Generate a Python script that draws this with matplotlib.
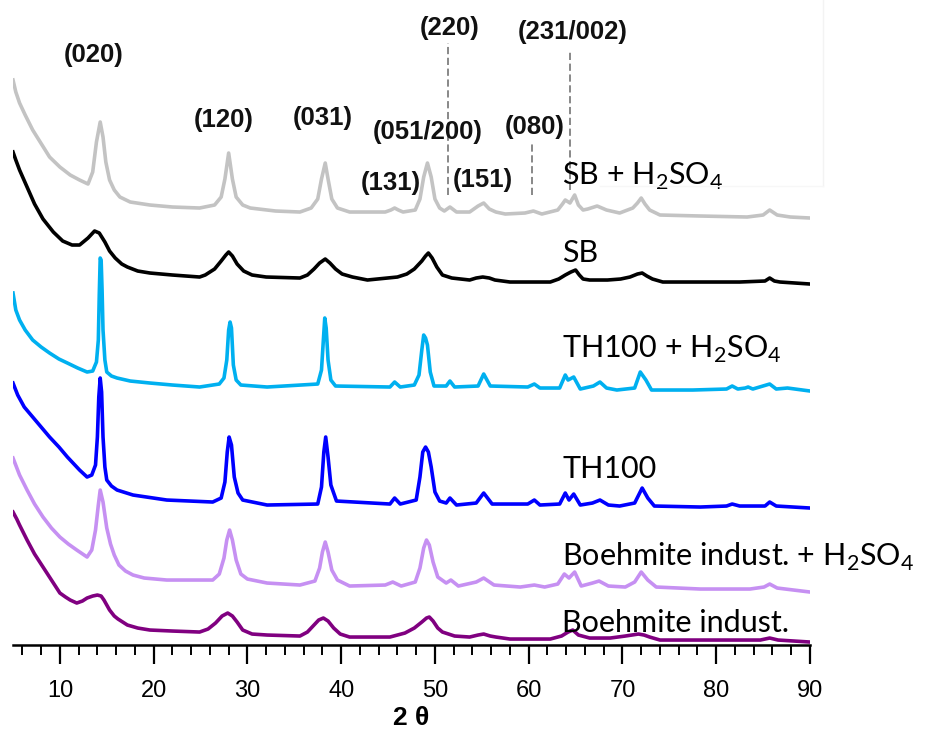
import matplotlib
matplotlib.use("Agg")
import matplotlib.pyplot as plt
from matplotlib.lines import Line2D
from matplotlib.ticker import MultipleLocator

# 2 theta (deg) / intensity above each pattern's own baseline (arb.)
x_sb_acid = [5.0, 5.3, 5.7, 6.3, 7.1, 7.9, 8.9, 10.0, 11.1, 12.1, 13.0, 13.5, 13.9, 14.3, 14.6,
             14.9, 15.3, 15.8, 16.4, 17.5, 19.6, 22.0, 24.9, 26.5, 27.2, 27.6, 28.0, 28.4,
             28.8, 29.5, 30.3, 33.0, 35.6, 36.8, 37.5, 37.9, 38.3, 38.6, 39.0, 39.6, 40.9,
             44.7, 45.3, 45.7, 46.1, 46.6, 47.9, 48.4, 48.8, 49.2, 49.6, 50.0, 50.5, 51.0,
             51.6, 52.3, 53.7, 54.6, 55.2, 55.8, 56.5, 57.5, 59.6, 60.5, 61.4, 63.1, 63.6,
             63.9, 64.4, 64.9, 65.3, 65.8, 66.3, 67.3, 68.3, 69.7, 71.1, 71.6, 72.0, 72.4,
             72.9, 74.0, 78.3, 83.3, 85.0, 85.7, 86.5, 87.9, 90.0]
y_sb_acid = [137, 125, 114, 102, 87, 75, 60, 50, 42, 37, 33, 45, 75, 95, 80,
             55, 37, 27, 20, 15, 12, 10, 9, 12, 20, 38, 64, 38,
             20, 12, 9, 6, 5, 9, 18, 38, 54, 38, 18, 9, 5,
             5, 7, 9, 7, 5, 7, 18, 40, 54, 40, 18, 9, 6,
             10, 5, 5, 11, 14, 8, 5, 3, 4, 6, 3, 7, 13,
             17, 14, 22, 12, 7, 8, 11, 7, 4, 9, 14, 19, 13,
             7, 2, 1, 0, 2, 7, 2, 0, -1]

x_sb = [5.0, 5.3, 5.7, 6.5, 7.3, 8.2, 9.3, 10.3, 11.3, 12.1, 13.0, 13.7, 14.2, 14.8, 15.3,
        15.9, 16.6, 17.2, 18.3, 19.6, 22.0, 24.9, 25.5, 26.5, 27.2, 27.7, 28.0, 28.4, 28.9,
        29.6, 30.5, 32.0, 35.6, 36.4, 37.1, 37.7, 38.3, 38.8, 39.4, 40.1, 41.2, 42.8, 46.0,
        47.0, 47.8, 48.6, 49.0, 49.3, 49.7, 50.2, 50.8, 51.8, 53.7, 54.4, 55.1, 55.8, 56.4,
        58.0, 62.3, 63.2, 63.9, 64.5, 65.0, 65.4, 65.8, 66.5, 68.4, 69.8, 70.8, 71.6, 72.1,
        72.6, 73.2, 74.3, 82.5, 85.2, 85.7, 86.2, 86.8, 90.0]
y_sb = [130, 122, 112, 95, 78, 63, 50, 41, 37, 37, 44, 51, 49, 40, 31,
        24, 18, 15, 11, 9, 7, 5, 7, 13, 21, 27, 30, 26, 18,
        11, 7, 5, 4, 7, 13, 19, 23, 19, 13, 8, 5, 2, 5,
        8, 13, 21, 26, 29, 24, 15, 7, 4, 2, 4, 5, 4, 2,
        0, 0, 3, 7, 10, 12, 7, 3, 2, 2, 3, 5, 8, 9,
        6, 3, 0, 0, 1, 4, 1, 0, -2]

x_th_acid = [5.0, 5.3, 5.7, 6.3, 7.1, 8.0, 8.9, 9.9, 10.8, 11.9, 12.9, 13.5, 13.9, 14.1, 14.2,
             14.3, 14.4, 14.5, 14.6, 14.8, 15.0, 15.5, 16.1, 17.5, 19.6, 22.0, 24.9, 27.0,
             27.5, 27.8, 28.0, 28.15, 28.3, 28.5, 28.8, 29.3, 32.1, 37.5, 37.9, 38.1, 38.25,
             38.4, 38.6, 38.9, 39.4, 45.2, 45.7, 46.3, 47.8, 48.3, 48.6, 48.8, 49.0, 49.2,
             49.5, 49.9, 51.2, 51.6, 52.1, 54.6, 55.2, 55.9, 59.9, 60.6, 61.2, 63.3, 63.9,
             64.2, 64.8, 65.5, 66.9, 67.6, 68.3, 69.4, 71.3, 71.9, 72.5, 73.1, 77.5, 81.1,
             81.7, 82.3, 83.1, 83.4, 83.9, 85.7, 86.4, 87.6, 90.0]
y_th_acid = [97, 80, 70, 60, 50, 43, 37, 31, 27, 22, 18, 19, 28, 50, 95,
             132, 130, 100, 60, 30, 18, 14, 12, 9, 7, 5, 3, 6,
             12, 30, 60, 68, 62, 25, 10, 5, 3, 6, 20, 50, 72,
             62, 30, 10, 4, 3, 8, 3, 5, 15, 40, 55, 52, 45,
             18, 4, 4, 9, 3, 4, 16, 4, 3, 6, 2, 2, 15,
             10, 13, 1, 4, 8, 2, 0, 2, 18, 10, 0, 0, 1,
             4, 1, 2, 3, 1, 6, 1, 2, -1]

x_th = [5.0, 5.5, 6.2, 7.1, 8.0, 8.9, 9.9, 10.8, 11.5, 12.1, 12.9, 13.4, 13.8, 14.0, 14.15,
        14.3, 14.45, 14.6, 14.8, 15.0, 15.5, 16.1, 17.8, 21.4, 26.3, 27.2, 27.6, 27.85,
        28.05, 28.3, 28.6, 29.0, 29.5, 32.1, 37.5, 37.9, 38.15, 38.35, 38.6, 38.9, 39.5,
        45.2, 45.7, 46.3, 48.0, 48.4, 48.7, 49.0, 49.3, 49.6, 50.0, 50.5, 51.2, 51.6,
        52.3, 54.4, 55.2, 56.1, 59.9, 60.6, 61.2, 63.3, 63.9, 64.3, 64.8, 65.5, 66.8,
        67.6, 68.5, 69.7, 71.3, 72.1, 72.7, 73.4, 78.3, 81.1, 81.7, 82.5, 85.2, 85.7,
        86.4, 90.0]
y_th = [124, 112, 100, 90, 80, 70, 60, 50, 43, 37, 30, 32, 42, 70, 110,
        129, 115, 70, 40, 27, 21, 17, 12, 7, 5, 9, 25, 55,
        70, 62, 30, 14, 7, 2, 3, 20, 55, 70, 50, 22, 6,
        3, 9, 3, 7, 30, 55, 60, 55, 40, 15, 6, 4, 9,
        2, 4, 14, 3, 3, 7, 2, 3, 14, 7, 13, 2, 4,
        7, 2, 1, 4, 19, 9, 1, 0, 1, 3, 1, 1, 5,
        1, -1]

x_bi_acid = [5.0, 5.7, 6.5, 7.3, 8.2, 9.1, 10.0, 10.9, 11.8, 12.9, 13.4, 13.8, 14.1, 14.3, 14.6,
             15.0, 15.4, 15.8, 16.3, 17.0, 17.8, 19.0, 21.4, 26.3, 27.0, 27.5, 27.8, 28.1,
             28.4, 28.8, 29.3, 30.0, 32.1, 35.6, 37.2, 37.7, 38.0, 38.3, 38.6, 39.0, 39.6,
             40.9, 44.7, 45.5, 46.4, 47.9, 48.4, 48.8, 49.1, 49.4, 49.8, 50.3, 51.2, 51.7,
             52.5, 54.4, 55.2, 56.3, 59.1, 60.6, 61.7, 63.1, 63.8, 64.3, 64.9, 65.6, 66.8,
             67.5, 68.5, 70.3, 71.3, 72.0, 72.7, 73.6, 78.3, 83.6, 85.1, 85.7, 86.5, 90.0]
y_bi_acid = [132, 115, 100, 86, 73, 62, 53, 46, 40, 33, 40, 60, 85, 100, 88,
             62, 46, 35, 25, 19, 15, 12, 10, 10, 16, 32, 50, 60,
             50, 30, 16, 11, 7, 5, 9, 22, 38, 48, 38, 20, 10,
             4, 5, 8, 4, 8, 22, 42, 50, 45, 28, 13, 7, 10,
             4, 8, 12, 5, 3, 5, 3, 6, 16, 12, 18, 4, 7,
             9, 4, 3, 8, 18, 10, 3, 1, 1, 3, 6, 2, -2]

x_bi = [5.0, 5.4, 5.7, 6.5, 7.3, 8.2, 9.1, 10.0, 10.6, 11.1, 11.8, 12.4, 12.9, 13.5, 14.0,
        14.4, 14.7, 15.3, 15.8, 16.2, 17.2, 18.3, 19.6, 22.0, 24.9, 25.8, 26.6, 27.3, 27.9,
        28.4, 28.9, 29.5, 30.5, 32.1, 35.6, 36.4, 37.0, 37.6, 38.1, 38.6, 39.2, 39.9, 40.9,
        45.2, 46.8, 47.8, 48.6, 49.1, 49.4, 49.8, 50.3, 50.8, 52.1, 53.7, 54.6, 55.2, 55.9,
        56.5, 58.0, 62.3, 63.5, 64.2, 64.7, 65.3, 66.5, 68.7, 70.3, 71.0, 71.7, 72.3, 72.9,
        74.0, 84.7, 85.7, 86.6, 90.0]
y_bi = [129, 122, 116, 101, 87, 74, 61, 48, 44, 41, 38, 40, 43, 45, 46,
        45, 41, 31, 25, 22, 16, 13, 11, 10, 9, 12, 18, 25, 28,
        25, 19, 11, 7, 6, 5, 9, 15, 21, 23, 20, 13, 7, 4,
        4, 8, 13, 19, 23, 24, 20, 13, 9, 5, 4, 6, 7, 5,
        4, 2, 2, 5, 9, 11, 6, 3, 3, 5, 6, 7, 6, 4,
        1, 1, 3, 1, -1]

series_x = [x_sb_acid, x_sb, x_th_acid, x_th, x_bi_acid, x_bi]
series_y = [y_sb_acid, y_sb, y_th_acid, y_th, y_bi_acid, y_bi]
series_name = [r"SB + H$_\mathregular{2}$SO$_\mathregular{4}$", "SB",
               r"TH100 + H$_\mathregular{2}$SO$_\mathregular{4}$", "TH100",
               r"Boehmite indust. + H$_\mathregular{2}$SO$_\mathregular{4}$", "Boehmite indust."]
series_color = ["#c3c3c3", "#000000", "#00b0f0", "#0000ff", "#c690f2", "#800080"]
offset = [428, 363, 255, 138, 55, 4]
name_y = [460, 383, 287, 167, 79, 13]

# reflexions: label, x, y of text
hkl = ["(020)", "(120)", "(031)", "(051/200)", "(131)", "(151)", "(080)", "(220)", "(231/002)"]
hkl_x = [13.6, 27.5, 38.0, 49.2, 45.3, 55.1, 60.6, 51.6, 64.7]
hkl_y = [590, 525, 527, 513, 462, 465, 518, 617, 613]
# dashed guide lines: x, y start, y end
guide_x = [51.4, 60.4, 64.4]
guide_y0 = [450, 450, 455]
guide_y1 = [602, 503, 595]

fig = plt.figure(figsize=(9.5, 7.47), dpi=100)
ax = fig.add_axes([13 / 950, 0.1365, 797 / 950, 0.8635])

for xs, ys, c, off in zip(series_x, series_y, series_color, offset):
    ax.plot(xs, [v + off for v in ys], color=c, linewidth=2.6, solid_joinstyle="round")

for name, ny in zip(series_name, name_y):
    ax.text(63.6, ny, name, fontsize=22, family=["Lato", "DejaVu Sans"],
            ha="left", va="baseline", clip_on=False)

for lab, hx, hy in zip(hkl, hkl_x, hkl_y):
    ax.text(hx, hy, lab, fontsize=18.5, fontweight="bold", family="Liberation Sans",
            ha="center", va="center", color="#111111")

for gx, g0, g1 in zip(guide_x, guide_y0, guide_y1):
    ax.plot([gx, gx], [g0, g1], color="#7f7f7f", linewidth=1.3, linestyle=(0, (4, 2)))

# faint frame left over from the source image
fig.add_artist(Line2D([823 / 950, 823 / 950], [1, 1 - 186 / 747], color="#f3f3f3", lw=1))
fig.add_artist(Line2D([600 / 950, 823 / 950], [1 - 186 / 747, 1 - 186 / 747], color="#f7f7f7", lw=1))

ax.set_xlim(5, 90)
ax.set_ylim(0, 645)
for s in ["left", "right", "top"]:
    ax.spines[s].set_visible(False)
ax.spines["bottom"].set_linewidth(1.8)
ax.set_yticks([])
ax.xaxis.set_major_locator(MultipleLocator(10))
ax.xaxis.set_minor_locator(MultipleLocator(2))
ax.tick_params(axis="x", which="major", direction="out", length=14, width=1.6, pad=11,
               labelsize=17)
ax.tick_params(axis="x", which="minor", direction="out", length=7, width=1.4)
for t in ax.get_xticklabels():
    t.set_family(["Liberation Sans Narrow", "Liberation Sans"])
ax.set_xlabel("2 θ", fontsize=19, fontweight="bold", family="Liberation Sans", labelpad=3)

fig.savefig("out.png", dpi=100)
